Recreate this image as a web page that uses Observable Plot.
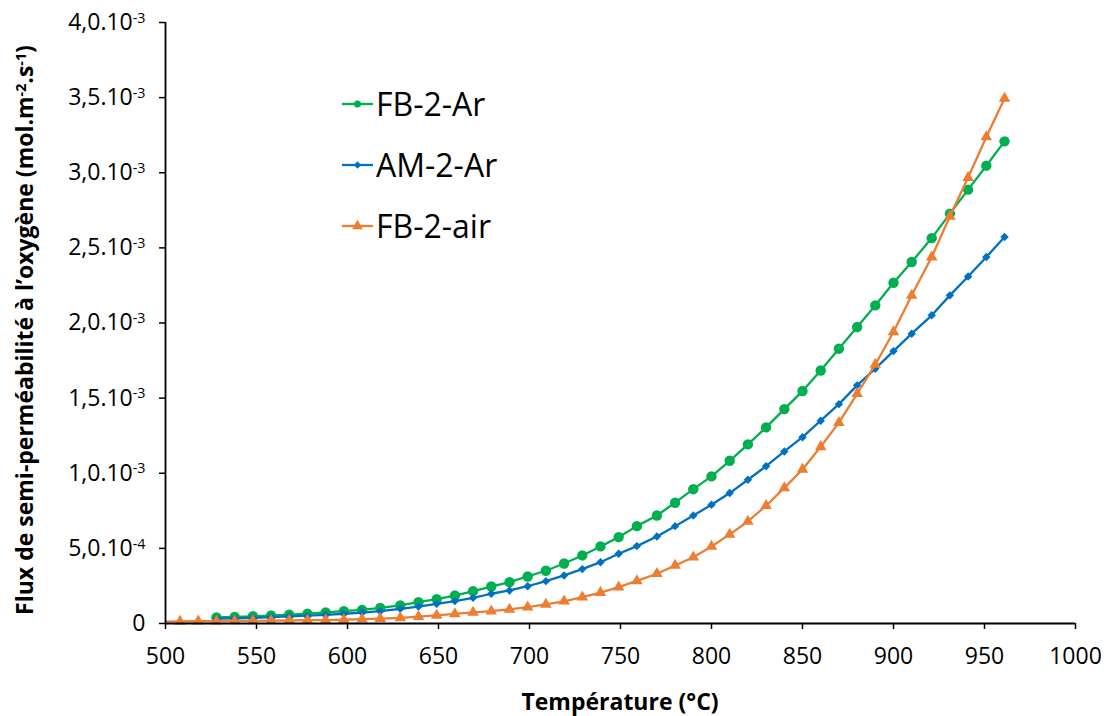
<!DOCTYPE html>
<html><head><meta charset="utf-8">
<script src="https://cdn.jsdelivr.net/npm/d3@7"></script>
<script src="https://cdn.jsdelivr.net/npm/@observablehq/plot@0.6"></script>
<style>
body{margin:0;background:#fff;font-family:"Open Sans",sans-serif;}
#wrap{position:relative;width:1107px;height:716px;overflow:hidden;}
</style></head><body><div id="wrap"></div>
<script>
// Temperatures (°C) of the measurement points
const temps = [498,508,518,528,538,548,558,568,578,588,598,608,618,629,639,649,659,669,679,689,699,709,719,729,739,749,759,770,780,790,800,810,820,830,840,850,860,870,880,890,900,910,921,931,941,951,961];
// Flux values in units of 1e-3 mol.m-2.s-1
// FB-2-Ar and AM-2-Ar start at 528 °C (temps[3])
const fb2Ar = [0.040,0.044,0.048,0.053,0.059,0.066,0.074,0.082,0.091,0.104,0.120,0.142,0.162,0.186,0.215,0.246,0.275,0.313,0.351,0.399,0.453,0.513,0.575,0.648,0.719,0.804,0.894,0.979,1.083,1.192,1.305,1.427,1.547,1.684,1.829,1.973,2.117,2.268,2.406,2.565,2.728,2.888,3.047,3.209];
const am2Ar = [0.032,0.035,0.038,0.042,0.047,0.052,0.058,0.065,0.073,0.082,0.098,0.113,0.131,0.149,0.171,0.198,0.220,0.248,0.282,0.320,0.362,0.408,0.464,0.515,0.579,0.648,0.719,0.790,0.868,0.957,1.047,1.145,1.240,1.350,1.460,1.585,1.696,1.813,1.929,2.051,2.184,2.310,2.439,2.572];
// FB-2-air starts at 498 °C (temps[0])
const fb2Air = [0.012,0.014,0.015,0.016,0.017,0.018,0.019,0.020,0.022,0.023,0.025,0.029,0.033,0.038,0.046,0.054,0.064,0.074,0.082,0.094,0.109,0.127,0.148,0.175,0.206,0.242,0.284,0.331,0.386,0.441,0.513,0.593,0.679,0.784,0.903,1.025,1.176,1.337,1.529,1.724,1.940,2.184,2.439,2.710,2.968,3.238,3.494];

const seriesNames = ["FB-2-Ar","AM-2-Ar","FB-2-air"];
const seriesColors = ["#00B050","#0070C0","#ED7D31"];
const seriesSymbols = ["circle","diamond2","triangle"];
const seriesR = [5.2,3.8,4.3];

const xTicks = [500,550,600,650,700,750,800,850,900,950,1000];
const yTicks = [0,0.5,1.0,1.5,2.0,2.5,3.0,3.5,4.0];
const yTickMantissa = ["0","5,0.10","1,0.10","1,5.10","2,0.10","2,5.10","3,0.10","3,5.10","4,0.10"];
const yTickExponent = ["","-4","-3","-3","-3","-3","-3","-3","-3"];

const xLabel = "Température (°C)";
const yLabelParts = [["Flux de semi-perméabilité à l’oxygène (mol.m",""],["-2","sup"],[".s",""],["-1","sup"],[")",""]];

const seriesData = [
  fb2Ar.map((v,i)=>({T:temps[i+3], v, s:seriesNames[0]})),
  am2Ar.map((v,i)=>({T:temps[i+3], v, s:seriesNames[1]})),
  fb2Air.map((v,i)=>({T:temps[i], v, s:seriesNames[2]}))
];

const marks = [];
seriesData.forEach((data,k)=>{
  marks.push(Plot.line(data,{x:"T",y:"v",stroke:seriesColors[k],strokeWidth:2.3,clip:true}));
  marks.push(Plot.dot(data.filter(d=>d.T>=500),{x:"T",y:"v",fill:seriesColors[k],stroke:"none",symbol:seriesSymbols[k],r:seriesR[k]}));
});

const plot = Plot.plot({
  width:1107, height:716,
  marginLeft:165, marginRight:32, marginTop:22, marginBottom:93,
  style:{fontFamily:"'Open Sans', sans-serif", color:"#000", background:"#fff"},
  x:{domain:[500,1000]},
  y:{domain:[0,4]},
  marks:[
    Plot.axisX({ticks:xTicks, tickSize:6, tickPadding:18, fontSize:23, label:null, strokeWidth:1.5, tickFormat:d=>String(d)}),
    Plot.axisY({ticks:yTicks, tickSize:6, tickPadding:14, fontSize:23, label:null, strokeWidth:1.5,
      tickFormat:(d)=>yTickMantissa[yTicks.indexOf(d)]}),
    ...marks,
    Plot.ruleY([0],{stroke:"#000",strokeWidth:1.8}),
    Plot.ruleX([500],{stroke:"#000",strokeWidth:1.8})
  ]
});
document.getElementById("wrap").appendChild(plot);

const svg = d3.select(plot);
// superscript exponents on y tick labels
svg.selectAll('g[aria-label="y-axis tick label"] text').each(function(){
  const t = this.textContent;
  const i = yTickMantissa.indexOf(t);
  if (i>=0 && yTickExponent[i]) {
    d3.select(this).append("tspan").attr("dy","-0.5em").attr("font-size","0.62em").text(yTickExponent[i]);
  }
});
// x axis title
svg.append("text").attr("x",(165+1075)/2).attr("y",710).attr("text-anchor","middle")
  .attr("font-size",23).attr("font-weight","bold").attr("fill","#000").text(xLabel);
// y axis title
const yt = svg.append("text").attr("transform","translate(33,330) rotate(-90)").attr("text-anchor","middle")
  .attr("font-size",23).attr("font-weight","bold").attr("fill","#000");
yLabelParts.forEach(([txt,kind],j)=>{
  const ts = yt.append("tspan").text(txt);
  if (kind==="sup") ts.attr("font-size","0.62em").attr("dy","-0.5em");
  else if (j>0) ts.attr("dy","0.31em");
});

// legend
const lg = svg.append("g").attr("text-anchor","start");
const legendY = [104,165,226];
const legendSym = [d3.symbolCircle, d3.symbolDiamond2, d3.symbolTriangle];
const legendSize = [40,34,52];
seriesNames.forEach((name,k)=>{
  const y = legendY[k];
  lg.append("line").attr("x1",342).attr("x2",373).attr("y1",y).attr("y2",y).attr("stroke",seriesColors[k]).attr("stroke-width",2.3);
  lg.append("path").attr("transform",`translate(357.5,${y})`).attr("fill",seriesColors[k])
    .attr("d", d3.symbol(legendSym[k], legendSize[k])());
  lg.append("text").attr("x",376).attr("y",y).attr("dy","0.36em").attr("font-size",32).attr("fill","#000").attr("text-anchor","start").text(name);
});
</script>
</body></html>
